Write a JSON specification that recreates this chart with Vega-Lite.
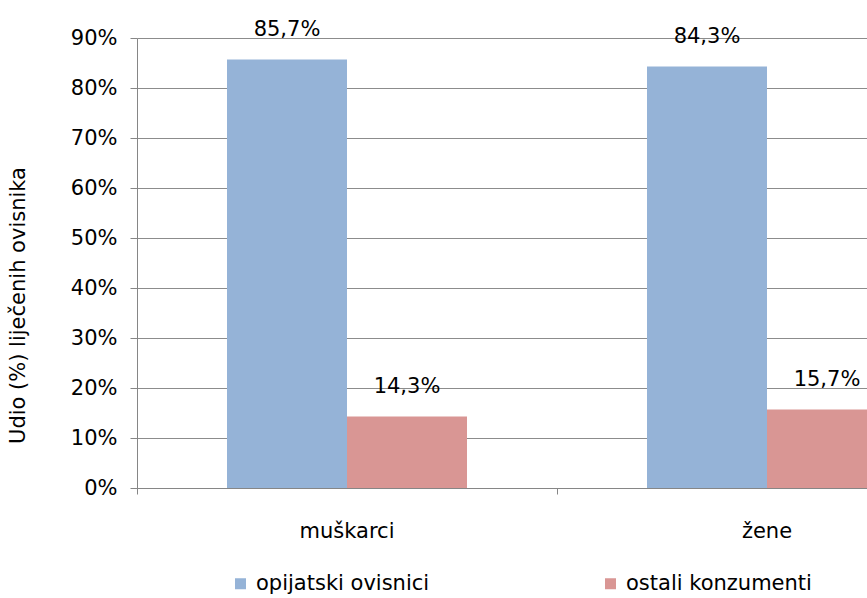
{
  "$schema": "https://vega.github.io/schema/vega-lite/v6.json",
  "autosize": {"type": "none"},
  "padding": {"left": 137, "top": 38, "right": 0, "bottom": 110},
  "width": 840,
  "height": 450,
  "config": {
    "locale": {"number": {"decimal": ",", "thousands": ".", "grouping": [3], "currency": ["", " kn"]}},
    "font": "DejaVu Sans",
    "view": {"stroke": null},
    "axis": {"labelFont": "DejaVu Sans", "titleFont": "DejaVu Sans"}
  },
  "data": {
    "values": [
      {"spol": "muškarci", "skupina": "opijatski ovisnici", "udio": 0.857},
      {"spol": "muškarci", "skupina": "ostali konzumenti", "udio": 0.143},
      {"spol": "žene", "skupina": "opijatski ovisnici", "udio": 0.843},
      {"spol": "žene", "skupina": "ostali konzumenti", "udio": 0.157}
    ]
  },
  "encoding": {
    "x": {
      "field": "spol", "type": "nominal", "sort": ["muškarci", "žene"],
      "scale": {"paddingInner": 0, "paddingOuter": 0},
      "axis": {
        "title": null, "labelAngle": 0, "bandPosition": 0, "labelOffset": 0,
        "labelFontSize": 21, "labelColor": "#000000", "labelPadding": 26,
        "labelOverlap": false, "labelBound": false,
        "domainColor": "#868686", "tickColor": "#868686", "tickSize": 6,
        "grid": false
      }
    },
    "xOffset": {
      "field": "skupina", "type": "nominal", "sort": ["opijatski ovisnici", "ostali konzumenti"],
      "scale": {"paddingInner": 0, "paddingOuter": 0.75}
    },
    "y": {
      "field": "udio", "type": "quantitative",
      "scale": {"domain": [0, 0.9], "nice": false},
      "axis": {
        "title": "Udio (%) liječenih ovisnika", "format": ".0%",
        "values": [0, 0.1, 0.2, 0.3, 0.4, 0.5, 0.6, 0.7, 0.8, 0.9],
        "labelOverlap": false,
        "labelFontSize": 21, "labelColor": "#000000", "labelPadding": 13,
        "titleFontSize": 21, "titleFontWeight": "normal", "titleColor": "#000000",
        "titleAngle": -90, "titleX": -119, "titleY": 267, "titleAlign": "center", "titleBaseline": "middle",
        "domainColor": "#868686", "tickColor": "#868686", "tickSize": 7,
        "gridColor": "#8c8c8c", "gridWidth": 1
      }
    }
  },
  "layer": [
    {
      "mark": {"type": "bar"},
      "encoding": {
        "color": {
          "field": "skupina", "type": "nominal",
          "scale": {"domain": ["opijatski ovisnici", "ostali konzumenti"], "range": ["#95B3D7", "#D99694"]},
          "legend": {
            "title": null, "orient": "none", "legendX": 93, "legendY": 535, "direction": "horizontal",
            "symbolType": "square", "symbolSize": 121, "symbolStrokeWidth": 0,
            "labelFontSize": 21, "labelColor": "#000000", "labelFont": "DejaVu Sans",
            "labelLimit": 400,
            "columnPadding": 170, "labelOffset": 5, "padding": 0
          }
        }
      }
    },
    {
      "mark": {"type": "text", "dy": -30, "fontSize": 21, "color": "#000000", "baseline": "middle"},
      "encoding": {
        "text": {"field": "udio", "type": "quantitative", "format": ".1%"}
      }
    }
  ]
}
